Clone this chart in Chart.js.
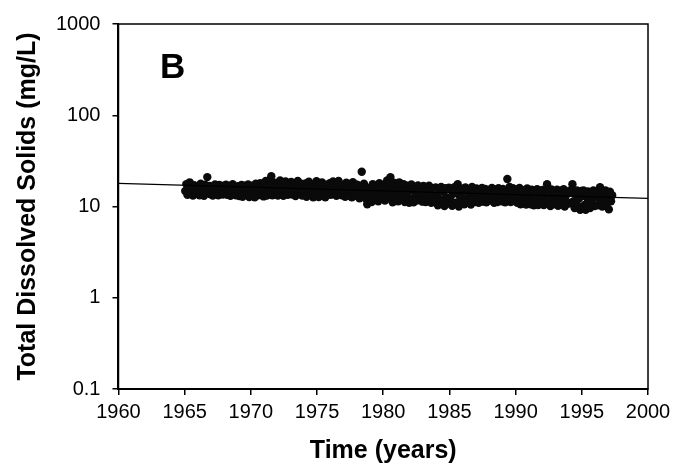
<!DOCTYPE html>
<html>
<head>
<meta charset="utf-8">
<script src="https://cdn.jsdelivr.net/npm/chart.js@4.4.1/dist/chart.umd.min.js"></script>
<style>
  html, body { margin: 0; padding: 0; background: #fff; }
  #wrap { width: 673px; height: 464px; }
</style>
</head>
<body>
<div id="wrap"><canvas id="myChart" width="673" height="464"></canvas></div>
<script>
// Monthly TDS samples (mg/L), one row per year
const firstYear = 1965;
const tds1965to1969 = [
  [14.8, 17.6, 13.4, 16.2, 18.4, 14.1, 15.5, 13.2, 17.1, 15.0, 13.8, 16.6],
  [15.2, 13.3, 17.8, 14.4, 16.1, 13.1, 17.3, 15.6, 21.0, 14.0, 16.8, 13.6],
  [16.4, 13.2, 15.1, 17.4, 13.9, 16.0, 13.3, 17.2, 14.6, 15.8, 13.5, 16.9],
  [14.2, 17.3, 13.4, 15.7, 16.8, 13.1, 15.0, 17.5, 14.0, 16.3, 13.3, 15.4],
  [16.7, 13.0, 14.9, 17.2, 12.8, 15.8, 16.9, 13.6, 14.4, 17.4, 12.7, 15.3]
];
const tds1970to1974 = [
  [13.4, 16.9, 14.8, 12.6, 17.8, 15.2, 13.3, 16.4, 18.0, 13.9, 15.6, 12.9],
  [15.8, 19.0, 13.2, 16.6, 14.1, 19.4, 21.5, 13.3, 15.9, 18.2, 14.4, 17.0],
  [13.2, 16.5, 19.3, 14.3, 17.6, 13.1, 15.4, 18.8, 14.8, 13.4, 17.9, 15.1],
  [18.6, 13.5, 15.7, 17.3, 13.0, 16.2, 19.0, 14.2, 15.3, 17.8, 13.2, 16.4],
  [14.6, 17.9, 12.8, 16.0, 18.7, 13.6, 15.2, 17.4, 12.6, 16.8, 14.3, 18.9]
];
const tds1975to1979 = [
  [15.0, 12.7, 17.6, 14.4, 18.3, 13.1, 16.1, 12.6, 17.2, 15.3, 13.7, 18.0],
  [13.4, 16.7, 18.8, 14.0, 15.6, 13.1, 17.7, 19.0, 14.5, 16.2, 13.3, 17.1],
  [16.5, 12.8, 18.2, 14.7, 13.2, 17.4, 15.5, 12.6, 18.5, 14.1, 16.3, 13.0],
  [17.3, 14.2, 12.3, 16.4, 24.0, 13.6, 17.8, 15.0, 12.1, 10.6, 16.0, 13.2],
  [15.4, 11.2, 17.6, 13.4, 12.0, 16.8, 14.3, 11.4, 18.0, 13.0, 15.7, 12.2]
];
const tds1980to1984 = [
  [17.1, 11.6, 14.5, 19.3, 12.4, 16.0, 21.0, 13.2, 11.1, 18.2, 14.8, 12.0],
  [16.3, 11.4, 18.4, 13.6, 12.1, 15.8, 17.5, 11.2, 14.2, 16.9, 12.6, 11.0],
  [15.1, 17.4, 12.2, 11.1, 16.2, 13.5, 11.6, 17.0, 14.3, 12.0, 15.6, 11.3],
  [16.8, 13.0, 11.2, 15.4, 12.3, 16.9, 14.0, 11.0, 15.9, 12.7, 11.5, 16.2],
  [13.4, 10.3, 15.6, 12.0, 16.4, 11.1, 14.5, 10.1, 15.9, 12.6, 10.8, 16.1]
];
const tds1985to1989 = [
  [12.2, 15.2, 10.2, 13.8, 16.3, 11.0, 14.6, 17.6, 10.0, 12.9, 15.8, 11.4],
  [14.9, 10.6, 16.2, 12.4, 11.0, 15.5, 13.3, 10.5, 16.4, 12.0, 14.4, 11.2],
  [15.8, 12.1, 11.0, 14.9, 13.0, 16.0, 11.3, 14.1, 15.6, 11.1, 12.8, 15.2],
  [11.6, 14.6, 16.0, 12.4, 11.0, 15.3, 13.6, 11.2, 15.9, 12.7, 14.2, 11.4],
  [15.6, 12.3, 11.1, 14.8, 20.0, 13.0, 16.4, 11.2, 14.0, 15.9, 11.5, 12.9]
];
const tds1990to1994 = [
  [15.4, 11.0, 13.7, 16.0, 10.6, 12.6, 15.1, 11.3, 14.4, 10.5, 15.8, 12.2],
  [13.6, 10.6, 15.3, 12.1, 10.3, 14.7, 11.4, 15.5, 10.4, 13.0, 14.9, 11.0],
  [15.2, 10.4, 12.7, 14.6, 17.5, 11.0, 13.8, 10.1, 15.4, 12.2, 10.6, 14.3],
  [12.0, 15.3, 10.2, 13.6, 14.9, 10.5, 12.4, 15.5, 10.0, 13.1, 11.2, 14.6],
  [10.8, 14.2, 15.3, 17.5, 11.4, 9.6, 13.6, 15.0, 10.2, 12.3, 9.2, 14.8]
];
const tds1995to1997 = [
  [13.0, 15.0, 10.4, 9.2, 12.6, 14.6, 11.0, 9.6, 14.1, 12.0, 15.0, 10.1],
  [12.5, 14.7, 10.3, 13.5, 16.3, 11.2, 10.0, 14.4, 12.6, 15.0, 10.6, 13.2],
  [9.3, 14.5, 11.4, 13.3]
];

// Trend line end points
const trendYears = [1960, 2000];
const trendValues = [17.9, 12.3];

// Axis ticks
const yTickValues = [0.1, 1, 10, 100, 1000];
const yTickLabels = ['0.1', '1', '10', '100', '1000'];

// Zet de jaarrijen om naar punten (midden van elke maand)
const allYears = [].concat(tds1965to1969, tds1970to1974, tds1975to1979,
  tds1980to1984, tds1985to1989, tds1990to1994, tds1995to1997);
const tdsPoints = [];
allYears.forEach(function(row, i) {
  row.forEach(function(v, m) {
    tdsPoints.push({ x: firstYear + i + (m + 0.5) / 12, y: v });
  });
});
const trendPoints = trendYears.map(function(yr, i) { return { x: yr, y: trendValues[i] }; });

// Kader rond de plot en de letter "B"
const framePlugin = {
  id: 'frame',
  afterDraw(chart) {
    const c = chart.ctx, a = chart.chartArea;
    c.save();
    c.strokeStyle = '#000';
    c.lineWidth = 1.5;
    c.strokeRect(a.left, a.top, a.right - a.left, a.bottom - a.top);
    c.fillStyle = '#000';
    c.font = 'bold 35px "Liberation Sans", Arial, sans-serif';
    c.textBaseline = 'alphabetic';
    c.fillText('B', 160, 78);
    c.restore();
  }
};

const ctx = document.getElementById('myChart').getContext('2d');
const chart = new Chart(ctx, {
  type: 'scatter',
  data: {
    datasets: [{
      label: 'Trend',
      type: 'line',
      data: trendPoints,
      borderColor: '#000',
      borderWidth: 1.3,
      pointRadius: 0,
      fill: false
    }, {
      label: 'TDS',
      data: tdsPoints,
      backgroundColor: '#0a0a0a',
      pointRadius: 4.2,
      pointBorderWidth: 0
    }]
  },
  plugins: [framePlugin],
  options: {
    responsive: false,
    animation: false,
    layout: { padding: { left: 0, right: 25, top: 22, bottom: 0 } },
    plugins: {
      legend: { display: false },
      tooltip: { enabled: false }
    },
    scales: {
      x: {
        type: 'linear',
        min: 1960,
        max: 2000,
        afterFit: function(scale) {
          // laatste label mag tot aan de rand lopen
          scale.paddingRight = 0;
        },
        ticks: {
          stepSize: 5,
          color: '#000',
          padding: 5,
          font: { family: '"Liberation Sans", Arial, sans-serif', size: 20 },
          callback: function(v) { return String(v); }
        },
        grid: { drawOnChartArea: false, drawTicks: true, tickLength: 6, color: '#000', lineWidth: 1.5 },
        border: { display: true, color: '#000', width: 2 },
        title: {
          display: true,
          text: 'Time (years)',
          color: '#000',
          padding: { top: 10, bottom: 0 },
          font: { family: '"Liberation Sans", Arial, sans-serif', size: 25, weight: 'bold', lineHeight: 1.0 }
        }
      },
      y: {
        type: 'logarithmic',
        min: 0.1,
        max: 1000,
        afterBuildTicks: function(scale) {
          scale.ticks = yTickValues.map(function(v) { return { value: v }; });
        },
        ticks: {
          color: '#000',
          padding: 12,
          font: { family: '"Liberation Sans", Arial, sans-serif', size: 20 },
          callback: function(v) {
            const i = yTickValues.indexOf(v);
            return i >= 0 ? yTickLabels[i] : '';
          }
        },
        grid: { drawOnChartArea: false, drawTicks: true, tickLength: 6, color: '#000', lineWidth: 1.5 },
        border: { display: true, color: '#000', width: 2 },
        title: {
          display: true,
          text: 'Total Dissolved Solids (mg/L)',
          color: '#000',
          padding: { top: 13, bottom: 1 },
          font: { family: '"Liberation Sans", Arial, sans-serif', size: 25, weight: 'bold' }
        }
      }
    }
  }
});
</script>
</body>
</html>
